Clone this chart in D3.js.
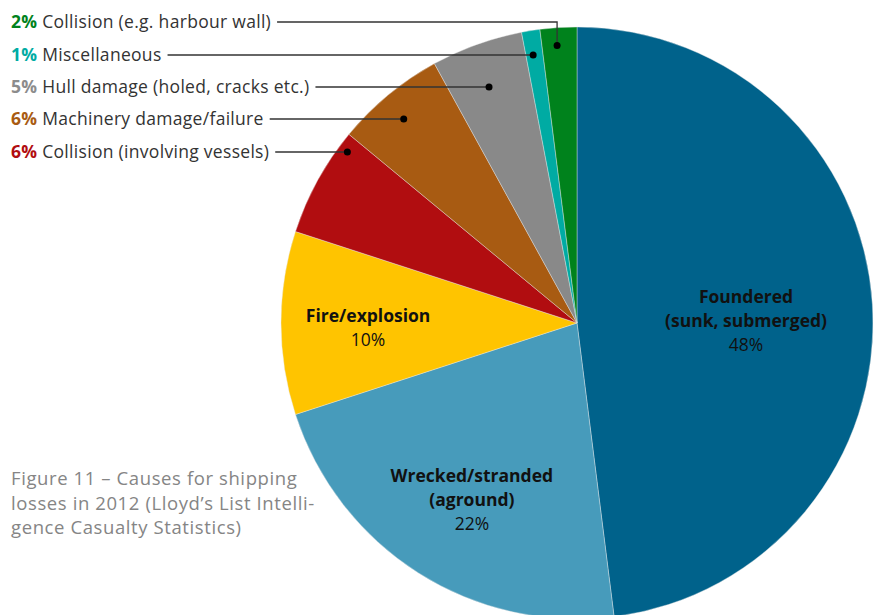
<!DOCTYPE html>
<html>
<head>
<meta charset="utf-8">
<script src="https://cdn.jsdelivr.net/npm/d3@7"></script>
<style>
  body { margin: 0; background: #fff; }
  svg { display: block; font-family: "Open Sans", "DejaVu Sans", sans-serif; }
</style>
</head>
<body>
<svg id="chart" width="874" height="615"></svg>
<script>
// slices, clockwise from 12 o'clock
var causes = ["Foundered (sunk, submerged)", "Wrecked/stranded (aground)", "Fire/explosion",
  "Collision (involving vessels)", "Machinery damage/failure", "Hull damage (holed, cracks etc.)",
  "Miscellaneous", "Collision (e.g. harbour wall)"];
var shares = [48, 22, 10, 6, 6, 5, 1, 2];
var colors = ["#00628b", "#479bbb", "#ffc400", "#b10d10", "#a85b12", "#898989", "#00aba3", "#00821c"];

// labels written inside the big slices
var insideLines = [["Foundered", "(sunk, submerged)"], ["Wrecked/stranded", "(aground)"], ["Fire/explosion"]];

// small slices get a legend on the top left (top row first)
var legendOrder = [7, 6, 5, 4, 3];
var legendColors = ["#00821c", "#00aba3", "#8c8c8c", "#a85b12", "#b10d10"];

var captionLines = ["Figure 11 \u2013 Causes for shipping", "losses in 2012 (Lloyd\u2019s List Intelli-", "gence Casualty Statistics)"];

var svg = d3.select("#chart"),
  cx = 577, cy = 323, radius = 296;

var g = svg.append("g").attr("transform", "translate(" + cx + "," + cy + ")");

var pie = d3.pie().sort(null).value(function(d) { return d; });
var arcs = pie(shares);

var arc = d3.arc().innerRadius(0).outerRadius(radius);

g.selectAll("path.slice")
  .data(arcs)
  .enter().append("path")
  .attr("class", "slice")
  .attr("d", arc)
  .attr("fill", function(d, i) { return colors[i]; })
  .attr("stroke", "#e8e8e8")
  .attr("stroke-width", 0.4);

// inside labels, [angle fraction, radius fraction] of the block centre
var insideSpots = [[0.517, 0.571], [0.479, 0.695], [0.461, 0.706]];
arcs.slice(0, 3).forEach(function(d, i) {
  var a = d.startAngle + (d.endAngle - d.startAngle) * insideSpots[i][0],
    r = radius * insideSpots[i][1],
    px = Math.sin(a) * r, py = -Math.cos(a) * r;
  var t = g.append("text")
    .attr("text-anchor", "middle")
    .attr("font-size", 17.5)
    .attr("fill", "#111");
  var lines = insideLines[i];
  var top = -lines.length * 24 / 2 + 6;
  lines.forEach(function(l, j) {
    t.append("tspan").attr("x", px).attr("y", py + top + j * 24)
      .attr("font-weight", "bold").text(l);
  });
  t.append("tspan").attr("x", px).attr("y", py + top + lines.length * 24)
    .text(shares[i] + "%");
});

// legend with leader lines
var rowY = [22, 55, 87, 119, 152];
var dotSpots = [[0.43, 0.94], [0.42, 0.918], [0.47, 0.855], [0.47, 0.906], [0.86, 0.966]];

legendOrder.forEach(function(idx, k) {
  var d = arcs[idx];
  var a = d.startAngle + (d.endAngle - d.startAngle) * dotSpots[k][0],
    r = radius * dotSpots[k][1];
  var dx = cx + Math.sin(a) * r, dy = cy - Math.cos(a) * r;
  if (k > 0) dy = rowY[k];

  var t = svg.append("text")
    .attr("x", 11)
    .attr("y", rowY[k] + 6)
    .attr("font-size", 17.5)
    .attr("letter-spacing", 0.3);
  t.append("tspan").attr("font-weight", "bold").attr("fill", legendColors[k]).text(shares[idx] + "%");
  t.append("tspan").attr("fill", "#333").text(" " + causes[idx]);

  var x0 = 11 + t.node().getComputedTextLength() + 6;
  var pts = [[x0, rowY[k]], [dx, rowY[k]], [dx, dy]];
  svg.append("path")
    .attr("d", d3.line()(pts))
    .attr("fill", "none")
    .attr("stroke", "#333")
    .attr("stroke-width", 1.3);
  svg.append("circle")
    .attr("cx", dx).attr("cy", dy).attr("r", 3.5)
    .attr("fill", "#000");
});

// caption
svg.append("g").selectAll("text")
  .data(captionLines)
  .enter().append("text")
  .attr("x", 11)
  .attr("y", function(d, i) { return 485 + i * 24.5; })
  .attr("font-size", 18.5)
  .attr("letter-spacing", 0.6)
  .attr("fill", "#858585")
  .text(function(d) { return d; });
</script>
</body>
</html>
